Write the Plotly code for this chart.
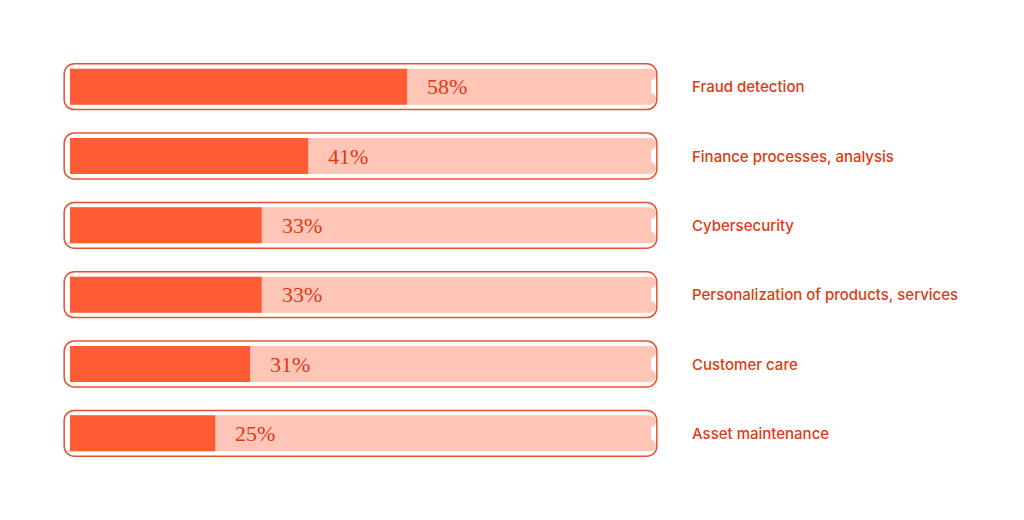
import plotly.graph_objects as go

categories = ["Fraud detection", "Finance processes, analysis", "Cybersecurity",
              "Personalization of products, services", "Customer care", "Asset maintenance"]
values = [58, 41, 33, 33, 31, 25]
labels = [f"{v}%" for v in values]

ORANGE = "#FF5C35"
TRACK = "#FFC6B8"
LINE = "#E8502E"
TEXT = "#E03A12"

fig = go.Figure()
fig.add_trace(go.Bar(y=categories, x=[102.0]*6, base=[-1.0]*6, orientation="h", width=0.66,
                     marker=dict(color="white", line=dict(color=LINE, width=1.5), cornerradius=10),
                     hoverinfo="skip"))
fig.add_trace(go.Bar(y=categories, x=[100]*6, orientation="h", width=0.52,
                     marker=dict(color=TRACK, line=dict(width=0), cornerradius=6), hoverinfo="skip"))
fig.add_trace(go.Bar(y=categories, x=values, orientation="h", width=0.52,
                     marker=dict(color=ORANGE, line=dict(width=0), cornerradius=4)))

for c, v, t in zip(categories, values, labels):
    fig.add_annotation(x=v, y=c, text=t, showarrow=False, xanchor="left", xshift=18,
                       font=dict(family="Liberation Serif", size=22, color=TEXT))
    fig.add_annotation(x=1.053, xref="paper", y=c, text=c, showarrow=False, xanchor="left",
                       font=dict(family="Inter", size=15, color=TEXT, weight=500))

fig.update_layout(width=1024, height=520, barmode="overlay", showlegend=False,
                  plot_bgcolor="white", paper_bgcolor="white",
                  margin=dict(l=55, r=374, t=44, b=60),
                  xaxis=dict(range=[-1.2, 101.2], visible=False, fixedrange=True),
                  yaxis=dict(autorange="reversed", visible=False))
fig.write_html("out.html")
